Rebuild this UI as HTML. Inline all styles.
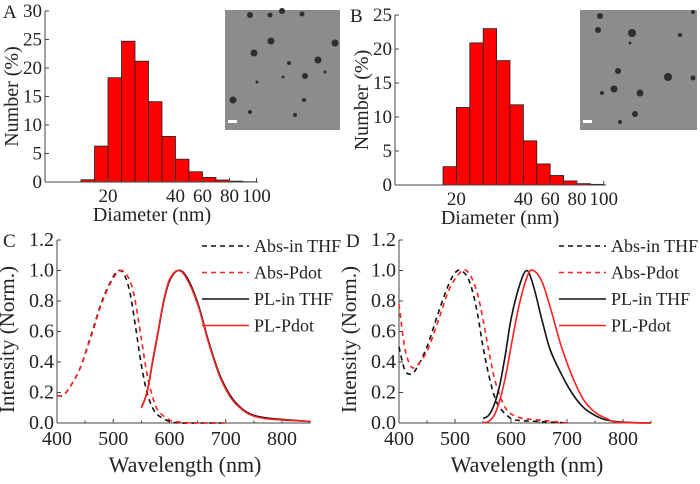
<!DOCTYPE html>
<html><head><meta charset="utf-8">
<style>
html,body{margin:0;padding:0;background:#fff;}
svg{display:block;}
svg text{font-family:"Liberation Serif","Times New Roman",serif !important;}
</style></head>
<body>
<svg id="fig" width="700" height="484" viewBox="0 0 700 484" xmlns="http://www.w3.org/2000/svg" font-family="Liberation Serif, serif"></svg>
<script>
// ---- Histogram data ----
const histAValues = [0.4, 6.3, 18.3, 24.7, 21.2, 14.1, 8.0, 4.0, 1.8, 0.8, 0.35, 0.15, 0.05];
const histBValues = [2.7, 11.4, 20.9, 23.0, 18.3, 11.8, 6.5, 3.1, 1.4, 0.6, 0.2, 0.1];
const histTickLabels = ["20", "40", "60", "80", "100"];
const histATickBins = [2, 7, 9, 11, 13];
const histBTickBins = [1, 6, 8, 10, 12];
const histAYTicks = [0, 5, 10, 15, 20, 25, 30];
const histBYTicks = [0, 5, 10, 15, 20, 25];
// ---- Spectra data ----
const waveTicks = [400, 500, 600, 700, 800];
const intensityTicks = [0.0, 0.2, 0.4, 0.6, 0.8, 1.0, 1.2];
const legendLabels = ["Abs-in THF", "Abs-Pdot", "PL-in THF", "PL-Pdot"];
const cAbsThfX = [400,410,420,440,460,480,500,510,520,530,540,550,560,570,580,600,620,650,700];
const cAbsThfY = [0.18,0.18,0.22,0.35,0.57,0.80,0.96,1.0,0.97,0.85,0.62,0.38,0.2,0.1,0.05,0.01,0.0,0.0,0.0];
const cAbsPdotX = [400,410,420,440,460,480,500,515,530,540,550,560,570,580,600,620,650,700];
const cAbsPdotY = [0.18,0.18,0.22,0.35,0.56,0.79,0.95,1.0,0.93,0.78,0.55,0.32,0.17,0.08,0.02,0.005,0.0,0.0];
const cPlThfX = [550,560,570,580,590,600,615,630,650,670,690,710,730,750,780,850];
const cPlThfY = [0.1,0.2,0.4,0.6,0.8,0.93,1.0,0.96,0.79,0.53,0.31,0.17,0.09,0.05,0.03,0.01];
const cPlPdotX = [550,560,570,580,590,600,615,630,650,670,690,710,730,750,780,850];
const cPlPdotY = [0.1,0.2,0.41,0.61,0.81,0.94,1.0,0.95,0.78,0.52,0.3,0.16,0.085,0.045,0.025,0.01];
const dAbsThfX = [400,410,420,430,450,470,490,505,520,530,540,550,560,570,580,600,620,650,700];
const dAbsThfY = [0.5,0.35,0.32,0.35,0.5,0.72,0.92,1.0,0.97,0.88,0.72,0.5,0.32,0.18,0.1,0.03,0.015,0.01,0.0];
const dAbsPdotX = [400,410,420,430,450,470,490,510,520,530,540,550,560,570,580,590,600,620,650,700];
const dAbsPdotY = [0.78,0.5,0.38,0.37,0.47,0.67,0.88,0.99,1.0,0.95,0.85,0.68,0.48,0.3,0.18,0.1,0.06,0.03,0.02,0.0];
const dPlThfX = [550,560,570,580,590,600,615,628,640,655,670,690,710,730,750,770,800,850];
const dPlThfY = [0.03,0.05,0.12,0.25,0.45,0.68,0.9,1.0,0.9,0.68,0.48,0.32,0.19,0.1,0.05,0.02,0.005,0.0];
const dPlPdotX = [550,560,570,580,590,600,615,630,640,655,670,690,710,730,750,770,790,850];
const dPlPdotY = [0.0,0.01,0.05,0.15,0.3,0.5,0.78,0.97,1.0,0.93,0.76,0.5,0.3,0.15,0.07,0.03,0.005,0.0];

const NS = "http://www.w3.org/2000/svg";
const svg = document.getElementById("fig");
const FONT = "Liberation Serif, Times New Roman, serif";
function mk(tag, attrs, parent, text){
  const e = document.createElementNS(NS, tag);
  for (const k in attrs) e.setAttribute(k, attrs[k]);
  if (tag === "text") e.setAttribute("font-family", FONT);
  if (text !== undefined) e.textContent = text;
  (parent || svg).appendChild(e);
  return e;
}
function smoothPath(pts){
  let d = "M" + pts[0][0].toFixed(1) + "," + pts[0][1].toFixed(1);
  for (let i = 0; i < pts.length - 1; i++){
    const p0 = pts[i - 1] || pts[i], p1 = pts[i], p2 = pts[i + 1], p3 = pts[i + 2] || pts[i + 1];
    const c1 = [p1[0] + (p2[0] - p0[0]) / 6, p1[1] + (p2[1] - p0[1]) / 6];
    const c2 = [p2[0] - (p3[0] - p1[0]) / 6, p2[1] - (p3[1] - p1[1]) / 6];
    d += " C" + c1.map(v => v.toFixed(1)).join(",") + " " + c2.map(v => v.toFixed(1)).join(",") + " " + p2[0].toFixed(1) + "," + p2[1].toFixed(1);
  }
  return d;
}

function histogram(cfg){
  const g = mk("g", {});
  
  
  const ys = v => cfg.y0 - (v / cfg.ymax) * (cfg.y0 - cfg.ytop);
  const xb = k => cfg.xbar0 + k * cfg.bw;
  cfg.values.forEach((v, i) => {
    const r = mk("rect", {x: xb(i), y: ys(v), width: cfg.bw, height: cfg.y0 - ys(v), fill: "#ff0000", stroke: "#222", "stroke-width": 0.8}, g);
    
    
  });
  const ax = mk("line", {x1: cfg.x0, y1: cfg.ytop, x2: cfg.x0, y2: cfg.y0, stroke: "#444", "stroke-width": 1}, g);
  
  
  const bx = mk("line", {x1: cfg.x0, y1: cfg.y0, x2: cfg.xend, y2: cfg.y0, stroke: "#444", "stroke-width": 1}, g);
  
  
  cfg.yticks.forEach(t => {
    const y = ys(t);
    mk("line", {x1: cfg.x0, y1: y, x2: cfg.x0 + 4, y2: y, stroke: "#444"}, g);
    const tl = mk("text", {x: cfg.x0 - 3, y: y + 6, "text-anchor": "end", "font-size": 19, fill: "#222"}, g, String(t));
    
    
  });
  cfg.tickBins.forEach((k, i) => {
    const x = xb(k);
    mk("line", {x1: x, y1: cfg.y0, x2: x, y2: cfg.y0 - 4, stroke: "#444"}, g);
    const tl = mk("text", {x: x, y: cfg.y0 + 20, "text-anchor": "middle", "font-size": 19, fill: "#222"}, g, histTickLabels[i]);
    
    
  });
  const xt = mk("text", {x: cfg.xtitle, y: cfg.y0 + 39, "text-anchor": "middle", "font-size": 20, fill: "#222"}, g, "Diameter (nm)");
  
  
  const yt = mk("text", {x: 0, y: 0, "text-anchor": "middle", "font-size": 20, fill: "#222", transform: `translate(${cfg.ytitleX},${(cfg.y0 + cfg.ytop) / 2}) rotate(-90)`}, g, "Number (%)");
  
  
  const pl = mk("text", {x: cfg.labelX, y: cfg.ytop + 7, "font-size": 19, fill: "#222"}, g, cfg.label);
  
  
  const ig = mk("g", {}, g);
  
  
  mk("rect", {x: cfg.inset[0], y: cfg.inset[1], width: cfg.inset[2], height: cfg.inset[3], fill: "#8c8c8c"}, ig);
  cfg.dots.forEach(d => mk("circle", {cx: cfg.inset[0] + d[0], cy: cfg.inset[1] + d[1], r: d[2], fill: "#2e2e2e"}, ig));
  mk("rect", {x: cfg.inset[0] + 3, y: cfg.inset[1] + cfg.inset[3] - 10, width: 9, height: 3, fill: "#fff"}, ig);
}

histogram({name: "histogram-a", values: histAValues, tickBins: histATickBins, yticks: histAYTicks, ymax: 30,
  x0: 45, xend: 258, y0: 182, ytop: 11, xbar0: 81, bw: 13.5, xtitle: 152, ytitleX: 18, labelX: 3, label: "A",
  inset: [225, 10, 115, 120],
  dots: [[25,5,3],[45,5,2.5],[57,1,3],[77,4,2.5],[46,31,3.5],[110,33,3.5],[29,43,3.5],[93,50,3.5],[64,53,2],[80,66,3],[8,90,3.5],[79,90,2],[25,102,2],[70,105,2],[32,72,1.5],[100,62,1.5],[58,67,1.5]]});
histogram({name: "histogram-b", values: histBValues, tickBins: histBTickBins, yticks: histBYTicks, ymax: 25,
  x0: 395, xend: 606, y0: 185, ytop: 15, xbar0: 443, bw: 13.4, xtitle: 500, ytitleX: 368, labelX: 350, label: "B",
  inset: [580, 10, 117, 120],
  dots: [[20,6,3],[18,20,3],[52,23,4],[100,25,2],[38,61,3],[34,79,3.5],[60,83,3.5],[22,83,2],[88,67,4],[113,68,2.5],[55,104,3],[40,112,2],[113,2,2],[50,33,1.5]]});

function spectra(cfg){
  const g = mk("g", {});
  
  
  const xs = w => cfg.x0 + (w - 400) * cfg.pxPerNm;
  const ys = v => cfg.y0 - (v / 1.2) * (cfg.y0 - cfg.ytop);
  const ax = mk("line", {x1: cfg.x0, y1: cfg.ytop, x2: cfg.x0, y2: cfg.y0, stroke: "#444"}, g);
  
  
  const bx = mk("line", {x1: cfg.x0, y1: cfg.y0, x2: xs(850), y2: cfg.y0, stroke: "#444"}, g);
  
  
  intensityTicks.forEach(t => {
    const y = ys(t);
    mk("line", {x1: cfg.x0, y1: y, x2: cfg.x0 + 4, y2: y, stroke: "#444"}, g);
    const tl = mk("text", {x: cfg.x0 - 3, y: y + 6, "text-anchor": "end", "font-size": 20, fill: "#222"}, g, t.toFixed(1));
    
    
  });
  for (let w = 450; w <= 850; w += 100) mk("line", {x1: xs(w), y1: cfg.y0, x2: xs(w), y2: cfg.y0 - 2.5, stroke: "#444"}, g);
  waveTicks.forEach(w => {
    mk("line", {x1: xs(w), y1: cfg.y0, x2: xs(w), y2: cfg.y0 - 4, stroke: "#444"}, g);
    const tl = mk("text", {x: xs(w), y: cfg.y0 + 22, "text-anchor": "middle", "font-size": 20, fill: "#222"}, g, String(w));
    
    
  });
  const xt = mk("text", {x: cfg.x0 + 128, y: cfg.y0 + 49, "text-anchor": "middle", "font-size": 22, fill: "#222"}, g, "Wavelength (nm)");
  
  
  const yt = mk("text", {x: 0, y: 0, "text-anchor": "middle", "font-size": 21, fill: "#222", transform: `translate(${cfg.x0 - 43},${(cfg.y0 + cfg.ytop) / 2 + 8}) rotate(-90)`}, g, "Intensity (Norm.)");
  
  
  const pl = mk("text", {x: cfg.labelX, y: cfg.ytop + 7, "font-size": 19, fill: "#222"}, g, cfg.label);
  
  
  const styles = [["#111", "5,4"], ["#ff2020", "5,4"], ["#111", ""], ["#ff2020", ""]];
  cfg.series.forEach((s, i) => {
    const pts = s[0].map((w, j) => [xs(w), ys(s[1][j])]);
    const p = mk("path", {d: smoothPath(pts), fill: "none", stroke: styles[i][0], "stroke-width": 1.6, "stroke-dasharray": styles[i][1]}, g);
    
    
  });
  legendLabels.forEach((lab, i) => {
    const y = 246 + i * 26.5;
    const lg = mk("g", {}, g);
    
    
    mk("line", {x1: cfg.legX, y1: y, x2: cfg.legX + 47, y2: y, stroke: styles[i][0], "stroke-width": 1.6, "stroke-dasharray": styles[i][1]}, lg);
    mk("text", {x: cfg.legX + 52, y: y + 6, "font-size": 18, fill: "#222"}, lg, lab);
  });
}

spectra({name: "spectra-c", x0: 57, y0: 423, ytop: 240, pxPerNm: 0.5625, labelX: 3, label: "C", legX: 202,
  series: [[cAbsThfX, cAbsThfY], [cAbsPdotX, cAbsPdotY], [cPlThfX, cPlThfY], [cPlPdotX, cPlPdotY]]});
spectra({name: "spectra-d", x0: 399, y0: 423, ytop: 240, pxPerNm: 0.56, labelX: 346, label: "D", legX: 559,
  series: [[dAbsThfX, dAbsThfY], [dAbsPdotX, dAbsPdotY], [dPlThfX, dPlThfY], [dPlPdotX, dPlPdotY]]});
</script>
</body></html>
